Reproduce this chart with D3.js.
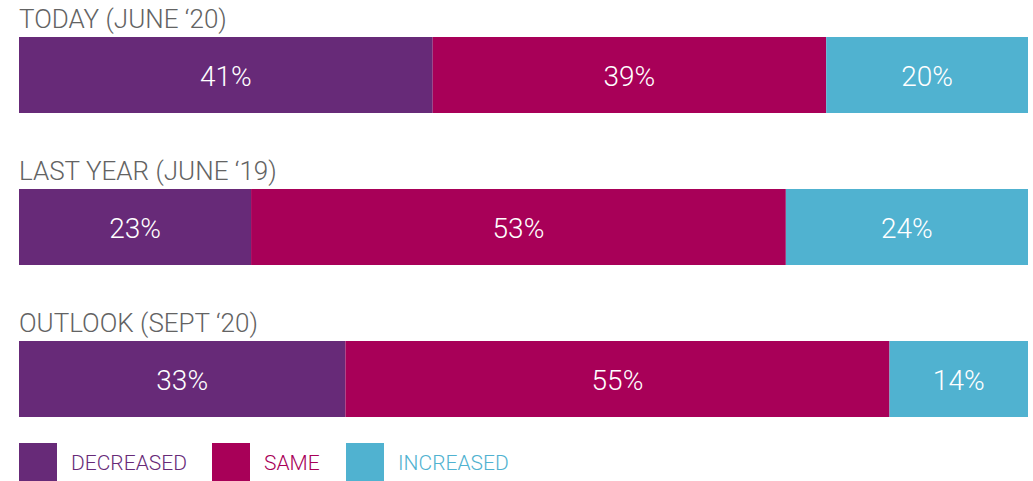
<!DOCTYPE html>
<html>
<head>
<meta charset="utf-8">
<script src="https://cdn.jsdelivr.net/npm/d3@7"></script>
<style>
    body { margin: 0; background: #fff; }
    svg { display: block; }
    text { font-family: Roboto, "Noto Sans", sans-serif; }
</style>
</head>
<body>
<div id="chart"></div>
<script>

// periods (one bar each)
const periods = ["TODAY (JUNE \u201820)", "LAST YEAR (JUNE \u201819)", "OUTLOOK (SEPT \u201820)"];

// answer categories
const categories = ["DECREASED", "SAME", "INCREASED"];

// series values (%)
const decreased = [41, 23, 33];
const same = [39, 53, 55];
const increased = [20, 24, 14];

const catColors = ["#672a78", "#a80058", "#50b2d0"];

const width = 1033, height = 481;

let svg = d3.select("#chart").append("svg")
    .attr("width", width)
    .attr("height", height);

// build rows for d3.stack
let rows = periods.map((p, i) => ({
    period: p,
    DECREASED: decreased[i],
    SAME: same[i],
    INCREASED: increased[i]
}));

let stacked = d3.stack()
    .keys(categories)
    .offset(d3.stackOffsetExpand)(rows);

let x = d3.scaleLinear()
    .domain([0, 1])
    .range([19, 1028]);

let y = d3.scaleBand()
    .domain(periods)
    .range([37, 417])
    .paddingInner(0.5)
    .paddingOuter(0);

let color = d3.scaleOrdinal()
    .domain(categories)
    .range(catColors);

// period titles above each bar
svg.selectAll("text.period")
    .data(periods)
    .enter()
    .append("text")
    .attr("class", "period")
    .attr("x", x(0))
    .attr("y", d => y(d) - 9)
    .attr("fill", "#636363")
    .style("font-size", "26px")
    .style("font-weight", 300)
    .text(d => d);

// segments
let layers = svg.selectAll("g.layer")
    .data(stacked)
    .enter()
    .append("g")
    .attr("class", "layer")
    .attr("fill", d => color(d.key));

layers.selectAll("rect")
    .data(d => d)
    .enter()
    .append("rect")
    .attr("x", d => x(d[0]))
    .attr("y", d => y(d.data.period))
    .attr("width", d => x(d[1]) - x(d[0]))
    .attr("height", y.bandwidth());

// value labels
layers.selectAll("text.val")
    .data(d => d.map(v => ({ v: v, key: d.key })))
    .enter()
    .append("text")
    .attr("class", "val")
    .attr("x", d => (x(d.v[0]) + x(d.v[1])) / 2)
    .attr("y", d => y(d.v.data.period) + y.bandwidth() / 2 + 11)
    .attr("text-anchor", "middle")
    .attr("fill", "#fff")
    .style("font-size", "28px")
    .style("font-weight", 300)
    .text(d => d.v.data[d.key] + "%");

// legend
let lx = d3.scaleOrdinal()
    .domain(categories)
    .range([19, 212, 346]);

let legend = svg.selectAll("g.legend")
    .data(categories)
    .enter()
    .append("g")
    .attr("class", "legend")
    .attr("transform", d => "translate(" + lx(d) + ",443)");

legend.append("rect")
    .attr("width", 38)
    .attr("height", 38)
    .attr("fill", d => color(d));

legend.append("text")
    .attr("x", 52)
    .attr("y", 27)
    .attr("fill", d => color(d))
    .style("font-size", "21px")
    .style("font-weight", 300)
    .text(d => d);

</script>
</body>
</html>
